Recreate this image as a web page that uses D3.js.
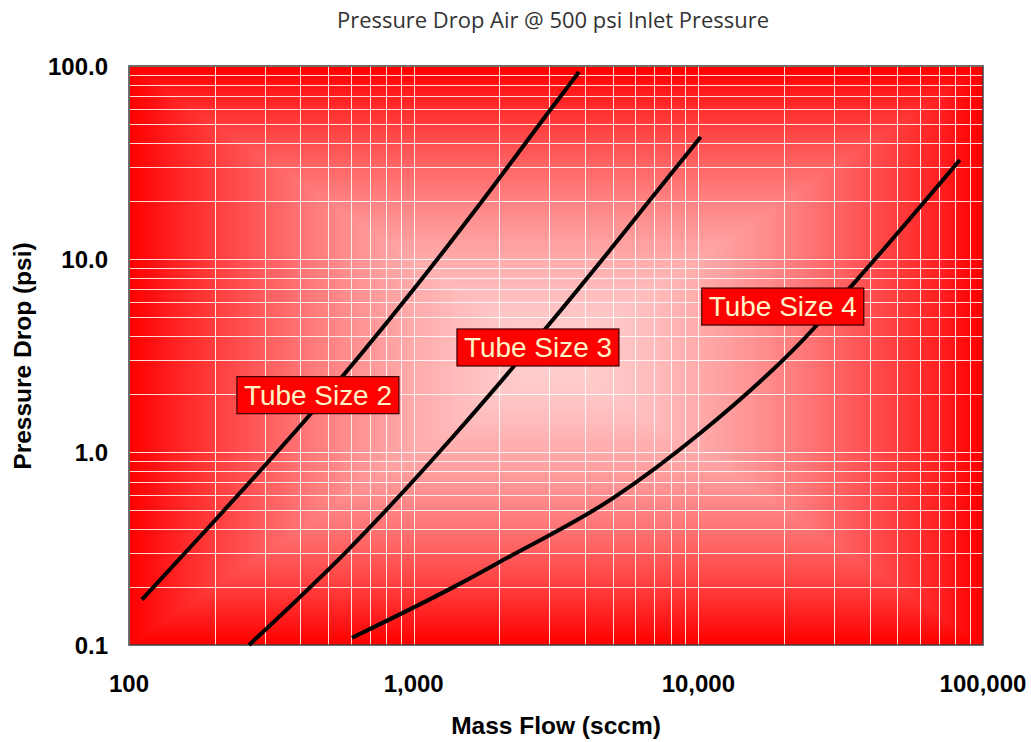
<!DOCTYPE html>
<meta charset="utf-8">
<style>
body { margin: 0; background: #fff; }
.grid line { stroke: #fff; stroke-opacity: 0.85; stroke-width: 1px; }
.tick-label { font-family: Arial, "Liberation Sans", sans-serif; font-weight: bold; font-size: 24px; fill: #000; }
.axis-title { font-family: Arial, "Liberation Sans", sans-serif; font-weight: bold; font-size: 24.5px; fill: #000; }
.chart-title { font-family: "Open Sans", "DejaVu Sans", sans-serif; font-size: 22px; fill: #333; }
.curve { fill: none; stroke: #000; stroke-width: 4px; stroke-linejoin: round; }
.tag rect { fill: #ff0000; stroke: #3a0000; stroke-width: 1.2px; }
.tag text { font-family: Arial, "Liberation Sans", sans-serif; font-size: 27px; fill: #fff5c8; }
</style>
<svg width="1031" height="742"></svg>
<script src="https://d3js.org/d3.v7.min.js"></script>
<script>

// mass flow (sccm) vs pressure drop (psi)
var tube2 = [[111, 0.172], [197, 0.43], [432, 1.56], [995, 6.9], [1751, 20.2], [3013, 59], [3808, 93]];
var tube3 = [[264, 0.1], [597, 0.318], [1374, 1.2], [2937, 4.44], [4887, 11.1], [6760, 20.2], [10200, 42.9]];
var tube4 = [[607, 0.109], [1455, 0.208], [2010, 0.27], [5090, 0.585], [10140, 1.25], [23280, 3.8], [36060, 7.8], [82900, 32.6]];

var xTicks = [100, 1000, 10000, 100000];
var yTicks = [0.1, 1, 10, 100];

var labels = ["Tube Size 2", "Tube Size 3", "Tube Size 4"];
var labelAt = [[461, 1.97], [2733, 3.48], [19800, 5.67]];

var svg = d3.select("svg");

// plot box ("top" is taken on window, so other names)
var pL = 129, pR = 983, pT = 66, pB = 645;

var x = d3.scaleLog().domain([100, 100000]).range([pL, pR]);
var y = d3.scaleLog().domain([0.1, 100]).range([pB, pT]);

// background: rectangular gradient, pink middle to red edges (nested rects)
var cx = (pL + pR) / 2, cy = (pT + pB) / 2,
    hw = (pR - pL) / 2, hh = (pB - pT) / 2;
var shade = d3.interpolateRgb("#ffcfcf", "#ff0000");
var steps = d3.range(120, 0, -1).map(function(i) { return i / 120; });

svg.append("g").selectAll("rect")
    .data(steps)
  .enter().append("rect")
    .attr("x", function(t) { return cx - hw * t; })
    .attr("y", function(t) { return cy - hh * t; })
    .attr("width", function(t) { return 2 * hw * t; })
    .attr("height", function(t) { return 2 * hh * t; })
    .attr("fill", function(t) { return shade(Math.pow(t, 1.6)); });

var grid = svg.append("g").attr("class", "grid");

grid.selectAll("line.v")
    .data(x.ticks())
  .enter().append("line")
    .attr("class", "v")
    .attr("x1", function(d) { return Math.round(x(d)) + 0.5; })
    .attr("x2", function(d) { return Math.round(x(d)) + 0.5; })
    .attr("y1", pT).attr("y2", pB);

grid.selectAll("line.h")
    .data(y.ticks())
  .enter().append("line")
    .attr("class", "h")
    .attr("y1", function(d) { return Math.round(y(d)) + 0.5; })
    .attr("y2", function(d) { return Math.round(y(d)) + 0.5; })
    .attr("x1", pL).attr("x2", pR);

svg.append("rect").attr("x", pL).attr("y", pT)
    .attr("width", pR - pL).attr("height", pB - pT)
    .attr("fill", "none").attr("stroke", "#404040").attr("stroke-width", 1.5);

var line = d3.line()
    .x(function(d) { return x(d[0]); })
    .y(function(d) { return y(d[1]); })
    .curve(d3.curveMonotoneX);

svg.selectAll("path.curve")
    .data([tube2, tube3, tube4])
  .enter().append("path")
    .attr("class", "curve")
    .attr("d", line);

// labels
var tag = svg.selectAll("g.tag")
    .data(labels)
  .enter().append("g")
    .attr("class", "tag")
    .attr("transform", function(d, i) {
      return "translate(" + x(labelAt[i][0]) + "," + y(labelAt[i][1]) + ")";
    });

tag.append("rect")
    .attr("x", -81).attr("y", -18.5)
    .attr("width", 162).attr("height", 37);

tag.append("text")
    .attr("text-anchor", "middle")
    .attr("dy", "0.36em")
    .attr("textLength", 148)
    .attr("lengthAdjust", "spacingAndGlyphs")
    .text(function(d) { return d; });

// tick labels
var fmtX = d3.format(",");
var fmtY = d3.format(".1f");

svg.selectAll("text.xt")
    .data(xTicks)
  .enter().append("text")
    .attr("class", "tick-label xt")
    .attr("x", function(d) { return x(d); })
    .attr("y", 683)
    .attr("dy", "0.36em")
    .attr("text-anchor", "middle")
    .text(fmtX);

svg.selectAll("text.yt")
    .data(yTicks)
  .enter().append("text")
    .attr("class", "tick-label yt")
    .attr("x", 108)
    .attr("y", function(d) { return y(d); })
    .attr("dy", "0.36em")
    .attr("text-anchor", "end")
    .text(fmtY);

svg.append("text")
    .attr("class", "axis-title")
    .attr("x", 556).attr("y", 725)
    .attr("dy", "0.36em")
    .attr("text-anchor", "middle")
    .text("Mass Flow (sccm)");

svg.append("text")
    .attr("class", "axis-title")
    .attr("transform", "translate(22,356)rotate(-90)")
    .attr("dy", "0.36em")
    .attr("text-anchor", "middle")
    .text("Pressure Drop (psi)");

svg.append("text")
    .attr("class", "chart-title")
    .attr("x", 553).attr("y", 20)
    .attr("dy", "0.36em")
    .attr("text-anchor", "middle")
    .attr("textLength", 432)
    .attr("lengthAdjust", "spacingAndGlyphs")
    .text("Pressure Drop Air @ 500 psi Inlet Pressure");

</script>
